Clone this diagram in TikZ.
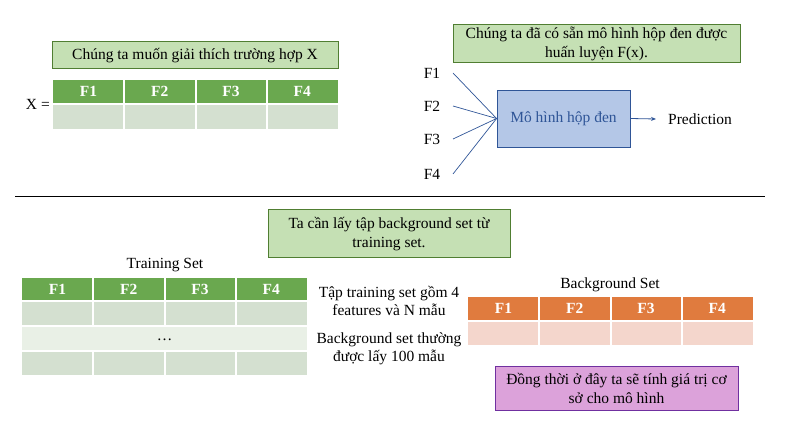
\documentclass[tikz,border=0pt]{standalone}
\usepackage{fontspec}
\setmainfont{Liberation Serif}
\usetikzlibrary{arrows.meta}
\definecolor{gfill}{HTML}{C5E0B4}
\definecolor{gline}{HTML}{507E32}
\definecolor{ghead}{HTML}{6AA84F}
\definecolor{growA}{HTML}{D4E0D0}
\definecolor{growB}{HTML}{E9F0E6}
\definecolor{bfill}{HTML}{B4C7E7}
\definecolor{bline}{HTML}{2F5597}
\definecolor{ohead}{HTML}{E07B3E}
\definecolor{orow}{HTML}{F4D6CC}
\definecolor{pfill}{HTML}{DCA2DA}
\definecolor{pline}{HTML}{7030A0}
\begin{document}
\begin{tikzpicture}[x=1pt,y=-1pt,
  txt/.style={font=\fontsize{15.5}{18}\selectfont, inner sep=0pt},
  note/.style={draw=gline, line width=1pt, fill=gfill, font=\fontsize{15.5}{19}\selectfont, align=center, inner sep=0pt},
  hcell/.style={font=\bfseries\fontsize{15.5}{18}\selectfont, text=white, inner sep=0pt},
  sep/.style={white, line width=2pt}]
\useasboundingbox (0,0) rectangle (788,430);
% top left
\node[note, minimum width=286, minimum height=27] (q1) at (195,55.5) {Chúng ta muốn giải thích trường hợp X};
\fill[ghead] (53,80) rectangle (338,103);
\fill[growA] (53,105) rectangle (338,129);
\foreach \i/\t in {0/F1,1/F2,2/F3,3/F4}{
  \node[hcell] (xh\i) at (53+35.6+71.25*\i,91.5) {\t};
}
\foreach \i in {1,2,3}{\draw[sep] (53+71.25*\i,80) -- (53+71.25*\i,129);}
\draw[sep] (53,104) -- (338,104);
\node[txt, anchor=east] (xeq) at (50,104) {X =};
% top right
\node[note, minimum width=287, minimum height=38] (q2) at (596.5,44) {Chúng ta đã có sẵn mô hình hộp đen được\\huấn luyện F(x).};
\node[draw=bline, line width=0.8pt, fill=bfill, minimum width=133, minimum height=57, font=\fontsize{15.5}{18}\selectfont, text=bline, inner sep=0pt] (bb) at (563.5,118.5) {Mô hình hộp đen};
\foreach \t/\y in {F1/73,F2/106,F3/139,F4/174}{
  \node[txt] (\t) at (432,\y) {\t};
  \coordinate (s\t) at (453,\y);
  \draw[bline, line width=0.7pt] (s\t) -- (bb.west);
}
\node[txt, anchor=west] (pred) at (668,119) {Prediction};
\coordinate (pa) at (656,119);
\draw[bline, line width=0.8pt, -{Stealth[length=5pt,width=4pt]}] (bb.east) -- (pa);
% separator
\coordinate (l1) at (15,196); \coordinate (l2) at (765,196);
\draw[line width=0.9pt] (l1) -- (l2);
% middle note
\node[note, minimum width=242, minimum height=48] (q3) at (389,234) {Ta cần lấy tập background set từ\\training set.};
% training set
\node[txt] (tslab) at (165,265) {Training Set};
\fill[ghead] (22,278) rectangle (307,301);
\fill[growA] (22,302) rectangle (307,326);
\fill[growB] (22,326) rectangle (307,351);
\fill[growA] (22,351) rectangle (307,375);
\foreach \i/\t in {0/F1,1/F2,2/F3,3/F4}{
  \node[hcell] (th\i) at (22+35.6+71.25*\i,289.5) {\t};
}
\foreach \i in {1,2,3}{\draw[sep] (22+71.25*\i,278) -- (22+71.25*\i,326); \draw[sep] (22+71.25*\i,351) -- (22+71.25*\i,375);}
\draw[sep] (22,301.5) -- (307,301.5);
\draw[sep] (22,326) -- (307,326);
\draw[sep] (22,351) -- (307,351);
\node[txt] (dots) at (164.5,340) {\dots};
\node[txt, align=center, font=\fontsize{15.5}{18.5}\selectfont] (n1) at (389,301) {Tập training set gồm 4\\features và N mẫu};
\node[txt, align=center, font=\fontsize{15.5}{18.5}\selectfont] (n2) at (389,349) {Background set thường\\được lấy 100 mẫu};
% background set
\node[txt] (bslab) at (610,285) {Background Set};
\fill[ohead] (468,297) rectangle (753,320);
\fill[orow] (468,322) rectangle (753,345);
\foreach \i/\t in {0/F1,1/F2,2/F3,3/F4}{
  \node[hcell] (bh\i) at (468+35.6+71.25*\i,308.5) {\t};
}
\foreach \i in {1,2,3}{\draw[sep] (468+71.25*\i,297) -- (468+71.25*\i,345);}
\draw[sep] (468,321) -- (753,321);
% purple note
\node[draw=pline, line width=0.8pt, fill=pfill, minimum width=243, minimum height=44, font=\fontsize{15.5}{19}\selectfont, align=center, inner sep=0pt] (q4) at (616.5,388) {Đồng thời ở đây ta sẽ tính giá trị cơ\\sở cho mô hình};
\end{tikzpicture}
\end{document}
